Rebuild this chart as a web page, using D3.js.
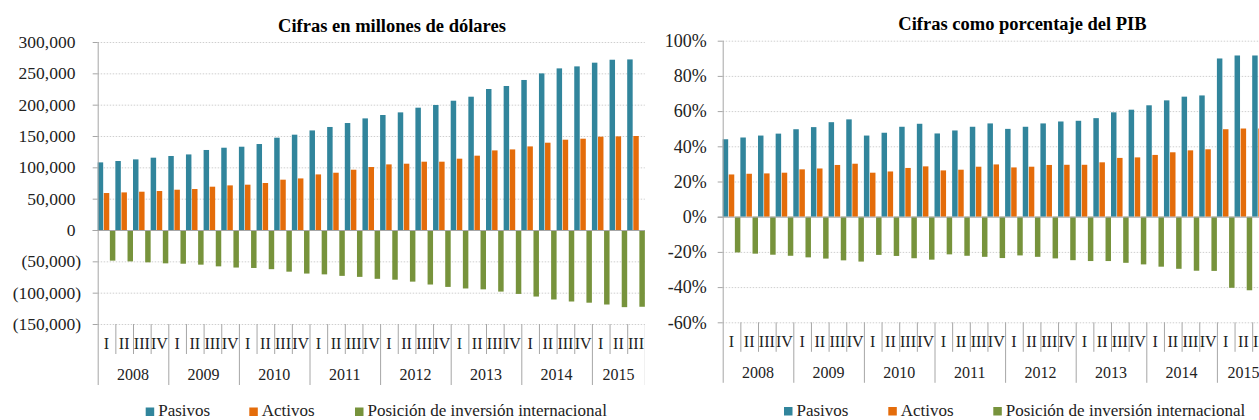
<!DOCTYPE html>
<html>
<head>
<meta charset="utf-8">
<script src="https://cdn.jsdelivr.net/npm/d3@7"></script>
<style>
  html, body { margin: 0; padding: 0; background: #fff; }
  svg { display: block; font-family: "Liberation Serif", "Times New Roman", serif; }
</style>
</head>
<body>
<svg id="chart" width="1259" height="420"></svg>
<script>
// ---------- DATA ----------
const years = ["2008", "2009", "2010", "2011", "2012", "2013", "2014", "2015"];
const quarterNames = ["I", "II", "III", "IV"];
const quartersPerYear = [4, 4, 4, 4, 4, 4, 4, 3];

const seriesNames = ["Pasivos", "Activos", "Posición de inversión internacional"];
const seriesColors = ["#31859C", "#E46C0A", "#77933C"];

// Cifras en millones de dólares
const pasivosUSD = [107900, 110100, 112700, 115400, 118100, 120600, 127700, 131300,
  132900, 137200, 147300, 152100, 158900, 164400, 170700, 178100, 183500, 187700,
  195200, 199500, 206300, 212700, 225000, 229800, 239400, 249900, 257900, 261100,
  267000, 271700, 272200];
const activosUSD = [59000, 60000, 61100, 62200, 64300, 65400, 69100, 71200,
  72300, 75000, 80300, 82300, 88700, 91400, 96200, 100500, 104700, 105800,
  109000, 109000, 113800, 118600, 127000, 128600, 133400, 139300, 144100, 145700,
  148900, 149400, 150000];
const posicionUSD = [-48900, -50100, -51600, -53200, -53800, -55300, -58000, -59900,
  -60600, -62500, -66500, -69500, -70800, -73200, -74800, -77900, -79300, -82400,
  -87000, -90800, -93300, -94700, -98300, -102000, -106200, -110900, -114100, -116000,
  -118900, -123100, -122500];
const ticksUSD = [-150000, -100000, -50000, 0, 50000, 100000, 150000, 200000, 250000, 300000];

// Cifras como porcentaje del PIB
const pasivosPIB = [44.0, 45.0, 46.1, 47.2, 49.7, 50.9, 53.7, 55.3, 46.1, 47.7, 51.1, 52.8,
  47.3, 49.0, 51.1, 53.0, 49.9, 51.1, 53.0, 54.1, 54.5, 56.0, 59.3, 60.8, 63.3, 66.1,
  68.2, 68.9, 89.9, 91.6, 91.6];
const activosPIB = [24.0, 24.4, 24.6, 25.0, 26.9, 27.4, 29.4, 30.1, 25.0, 25.7, 27.7, 28.6,
  26.3, 26.7, 28.4, 29.7, 28.0, 28.4, 29.4, 29.5, 29.5, 30.9, 33.4, 33.7, 35.1, 36.6,
  37.7, 38.3, 49.7, 50.1, 50.1];
const posicionPIB = [-20.3, -21.0, -21.6, -22.2, -23.1, -23.8, -24.8, -25.5, -21.7, -22.3,
  -23.6, -24.4, -21.4, -22.2, -22.8, -23.5, -22.0, -22.8, -23.7, -24.7, -25.2, -25.2,
  -26.2, -27.1, -28.4, -29.6, -30.7, -30.8, -40.4, -41.8, -41.5];
const ticksPIB = [-60, -40, -20, 0, 20, 40, 60, 80, 100];

// categories built from years/quarters
const categories = [];
years.forEach((y, yi) => {
  for (let q = 0; q < quartersPerYear[yi]; q++) {
    categories.push({ id: y + "-" + quarterNames[q], year: y, q: quarterNames[q], first: q === 0 });
  }
});

// ---------- DRAW ----------
const svg = d3.select("#chart");
svg.append("rect").attr("width", 1259).attr("height", 420).attr("fill", "#fff");

const fmtUSD = v => {
  const s = d3.format(",")(Math.abs(v));
  return v < 0 ? "(" + s + ")" : s;
};
const fmtPIB = v => v + "%";

function drawPanel(cfg) {
  const clipId = "clip-" + cfg.key;
  svg.append("clipPath").attr("id", clipId)
    .append("rect").attr("x", cfg.clipLeft).attr("y", 0)
    .attr("width", cfg.clipRight - cfg.clipLeft).attr("height", 420);

  const g = svg.append("g").attr("clip-path", `url(#${clipId})`);

  const step = cfg.band;
  const x = d3.scaleBand()
    .domain(categories.map(d => d.id))
    .range([cfg.xStart, cfg.xStart + step * categories.length])
    .padding(0);
  const xs = d3.scaleBand().domain(seriesNames).range([0, x.bandwidth()])
    .paddingInner(0.1).paddingOuter(0);
  const y = d3.scaleLinear().domain(cfg.domain).range([cfg.yBottom, cfg.yTop]);

  const xEnd = x.range()[1];

  // gridlines (dotted)
  g.append("g").selectAll("line")
    .data(cfg.ticks.filter(t => t !== 0))
    .join("line")
    .attr("x1", cfg.xStart).attr("x2", xEnd)
    .attr("y1", d => y(d) + 0.5).attr("y2", d => y(d) + 0.5)
    .attr("stroke", "#cfcfcf").attr("stroke-width", 1)
    .attr("stroke-dasharray", "1.5,1.5");

  // bars
  const seriesData = cfg.series;
  seriesNames.forEach((name, si) => {
    g.append("g").selectAll("rect")
      .data(categories.map((c, i) => ({ c, v: seriesData[si][i] })))
      .join("rect")
      .attr("x", d => x(d.c.id) + xs(name))
      .attr("width", xs.bandwidth())
      .attr("y", d => y(Math.max(0, d.v)))
      .attr("height", d => Math.abs(y(d.v) - y(0)))
      .attr("fill", seriesColors[si]);
  });

  // zero line
  g.append("line")
    .attr("x1", cfg.xStart - 5).attr("x2", xEnd)
    .attr("y1", y(0) + 0.5).attr("y2", y(0) + 0.5)
    .attr("stroke", "#a6a6a6").attr("stroke-width", 1);

  // y axis
  const yAxis = d3.axisLeft(y).tickValues(cfg.ticks).tickFormat(cfg.fmt)
    .tickSize(5).tickPadding(cfg.tickPadding);
  const ag = g.append("g").attr("transform", `translate(${cfg.xStart},0)`).call(yAxis);
  ag.select(".domain").remove();
  ag.selectAll(".tick line").attr("stroke", "#a6a6a6");
  ag.selectAll(".tick text")
    .attr("fill", "#222")
    .style("font-size", cfg.tickFont + "px")
    .style("font-family", "'Liberation Serif', serif")
    .attr("dx", d => (cfg.parenPad && d >= 0) ? "-0.333em" : null);

  // y axis line (extends through category labels)
  g.append("line")
    .attr("x1", cfg.xStart + 0.5).attr("x2", cfg.xStart + 0.5)
    .attr("y1", cfg.yTop).attr("y2", cfg.yBottom + cfg.sepYear)
    .attr("stroke", "#a6a6a6").attr("stroke-width", 1);

  // category separators
  g.append("g").selectAll("line")
    .data(categories.slice(1).concat([null]))
    .join("line")
    .attr("x1", d => (d ? x(d.id) : xEnd) + 0.5)
    .attr("x2", d => (d ? x(d.id) : xEnd) + 0.5)
    .attr("y1", cfg.yBottom)
    .attr("y2", d => cfg.yBottom + ((!d || d.first) ? cfg.sepYear : cfg.sepQ))
    .attr("stroke", "#a6a6a6").attr("stroke-width", 1);

  // quarter labels
  g.append("g").selectAll("text")
    .data(categories)
    .join("text")
    .attr("x", d => x(d.id) + x.bandwidth() / 2)
    .attr("y", cfg.qBaseline)
    .attr("text-anchor", "middle")
    .attr("fill", "#222")
    .style("font-size", cfg.catFont + "px")
    .text(d => d.q);

  // year labels
  g.append("g").selectAll("text")
    .data(years)
    .join("text")
    .attr("x", yr => {
      const cs = categories.filter(c => c.year === yr);
      return (x(cs[0].id) + x(cs[cs.length - 1].id) + x.bandwidth()) / 2;
    })
    .attr("y", cfg.yearBaseline)
    .attr("text-anchor", "middle")
    .attr("fill", "#222")
    .style("font-size", cfg.catFont + "px")
    .text(d => d);

  // title
  svg.append("text")
    .attr("x", cfg.titleX).attr("y", cfg.titleY)
    .attr("text-anchor", "middle")
    .attr("fill", "#000")
    .style("font-size", "18.5px").style("font-weight", "bold")
    .text(cfg.title);

  // legend
  const lg = svg.append("g");
  seriesNames.forEach((name, si) => {
    const lx = cfg.legendX[si];
    lg.append("rect")
      .attr("x", lx).attr("y", cfg.legendY - 8.5)
      .attr("width", 8.5).attr("height", 8.5)
      .attr("fill", seriesColors[si]);
    lg.append("text")
      .attr("x", lx + 12.5).attr("y", cfg.legendY)
      .attr("fill", "#222")
      .style("font-size", "17px")
      .text(name);
  });
}

drawPanel({
  key: "usd",
  clipLeft: 0, clipRight: 645,
  xStart: 97.7, band: 17.65,
  yTop: 42, yBottom: 324,
  domain: [-150000, 300000], ticks: ticksUSD, fmt: fmtUSD, parenPad: true,
  tickFont: 17.5, tickPadding: 11.5,
  sepQ: 30, sepYear: 61,
  catFont: 16, qBaseline: 349, yearBaseline: 380,
  title: "Cifras en millones de dólares", titleX: 392, titleY: 31.5,
  legendX: [145.7, 249.3, 355], legendY: 416,
  series: [pasivosUSD, activosUSD, posicionUSD]
});

drawPanel({
  key: "pib",
  clipLeft: 645, clipRight: 1259,
  xStart: 722.7, band: 17.65,
  yTop: 40.7, yBottom: 322.3,
  domain: [-60, 100], ticks: ticksPIB, fmt: fmtPIB, parenPad: false,
  tickFont: 18, tickPadding: 11,
  sepQ: 29.5, sepYear: 60.5,
  catFont: 16, qBaseline: 346.7, yearBaseline: 378,
  title: "Cifras como porcentaje del PIB", titleX: 1022.5, titleY: 29.5,
  legendX: [784, 888.3, 993.3], legendY: 415.5,
  series: [pasivosPIB, activosPIB, posicionPIB]
});
</script>
</body>
</html>
